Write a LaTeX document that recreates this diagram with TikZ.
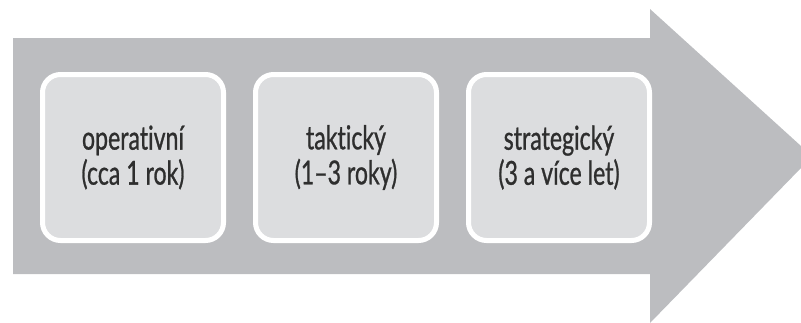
\documentclass[tikz,border=0pt]{standalone}
\usepackage{fontspec}
\setmainfont{Lato}[FakeStretch=0.7, FakeBold=0.8, Ligatures={NoCommon,NoRequired,NoContextual}]
\definecolor{arrowgray}{HTML}{BCBDC0}
\definecolor{boxgray}{HTML}{DCDDDF}
\definecolor{textgray}{HTML}{2E2E2E}
\tikzset{
  stagebox/.style={draw=white, line width=5pt, fill=boxgray, rounded corners=18pt,
    minimum width=181pt, minimum height=166pt, inner sep=0pt,
    align=center, text=textgray, font=\fontsize{33}{35}\selectfont}
}
\begin{document}
\begin{tikzpicture}[x=1pt,y=-1pt]
\useasboundingbox (0,0) rectangle (801,322);
\fill[arrowgray] (13,38) -- (650,38) -- (650,9) -- (801,146) -- (801,168) -- (650,323) -- (650,274) -- (13,274) -- cycle;
\node[stagebox] (op) at (133,157.5) {operativní\\(cca 1 rok)};
\node[stagebox] (ta) at (346,157.5) {taktický\\(1–3 roky)};
\node[stagebox] (st) at (559,157.5) {strategický\\(3 a více let)};
\end{tikzpicture}
\end{document}
